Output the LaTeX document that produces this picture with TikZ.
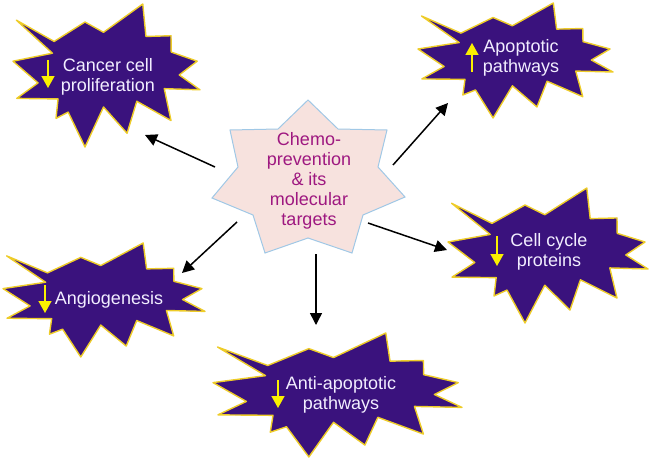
\documentclass[tikz,border=0pt]{standalone}
\usepackage{fontspec}
\setmainfont{Liberation Sans}
\usetikzlibrary{arrows.meta}

\definecolor{burstfill}{RGB}{58,18,125}
\definecolor{burstedge}{RGB}{238,204,40}
\definecolor{bursttxt}{RGB}{242,238,255}
\definecolor{starfill}{RGB}{247,226,222}
\definecolor{staredge}{RGB}{160,200,230}
\definecolor{chemotxt}{RGB}{158,24,128}
\definecolor{trendcol}{RGB}{250,240,0}

\tikzset{
  burst/.style={fill=burstfill,draw=burstedge,line width=1.4pt,line join=round},
  bursttext/.style={text=bursttxt,align=center,font=\fontsize{18}{20}\selectfont},
  link/.style={-{Triangle[length=12pt,width=12pt]},line width=1.5pt},
  trend/.style={-{Triangle[length=12pt,width=13pt]},draw=trendcol,fill=trendcol,line width=1.5pt}
}

\newcommand{\burstshape}[4]{%
  \begin{scope}[shift={(#1,#2)},xscale=#3/100,yscale=#4/100]
    \draw[burst] (1.8,11.3) -- (22,26.2) -- (38.5,12.6) -- (48.4,19.8) -- (69.4,0)
      -- (71.1,22.7) -- (84.5,22.2) -- (84.6,33.6) -- (98.5,40) -- (88.9,49.6)
      -- (100,60) -- (80.9,59.2) -- (84.5,81.5) -- (66.2,68) -- (61,90.4)
      -- (48.4,72) -- (38.5,100) -- (29.5,75.6) -- (23,80) -- (24.1,66.4)
      -- (2,66) -- (13.4,55.2) -- (0,40) -- (21.1,34.4) -- cycle;
  \end{scope}}

\begin{document}
\begin{tikzpicture}[x=1pt,y=-1pt]
  \useasboundingbox (0,0) rectangle (650,460);
  \burstshape{13}{4}{187}{143}
  \burstshape{418}{3}{195}{115}
  \burstshape{448}{188}{200}{135}
  \burstshape{3}{243}{202}{114}
  \burstshape{213}{333}{249}{124}
  \draw[fill=starfill,draw=staredge,line width=1pt]
    (308,100) -- (338,129) -- (387,130) -- (378,167) -- (405,197) -- (363,215)
    -- (352,253) -- (308,238) -- (265,253) -- (253,215) -- (212,198)
    -- (238,167) -- (230,130) -- (278,129) -- cycle;
  \path
    (309,181) node[align=center,text=chemotxt,font=\fontsize{18}{20}\selectfont] (chemo)
      {Chemo-\\prevention\\\& its\\molecular\\targets}
    (108,77) node[bursttext] (cancer) {Cancer cell\\proliferation}
    (521,58) node[bursttext] (apop) {Apoptotic\\pathways}
    (549,252) node[bursttext] (cycle) {Cell cycle\\proteins}
    (109,300) node[bursttext] (angio) {Angiogenesis}
    (341,395) node[bursttext] (antiap) {Anti-apoptotic\\pathways};
  \path
    (215,167) coordinate (c0) (145,135) coordinate (c1)
    (393,165) coordinate (a0) (448,103) coordinate (a1)
    (237,222) coordinate (g0) (182,273) coordinate (g1)
    (316,254) coordinate (n0) (316,325) coordinate (n1)
    (368,223) coordinate (p0) (447,250) coordinate (p1);
  \begin{scope}[link]
    \draw (c0) to (c1);
    \draw (a0) to (a1);
    \draw (g0) to (g1);
    \draw (n0) to (n1);
    \draw (p0) to (p1);
  \end{scope}
  \path
    (48,60) coordinate (tc0) (48,88) coordinate (tc1)
    (472,72) coordinate (ta0) (472,43) coordinate (ta1)
    (497,236) coordinate (tp0) (497,266) coordinate (tp1)
    (45,285) coordinate (tg0) (45,313) coordinate (tg1)
    (278,380) coordinate (tn0) (278,408) coordinate (tn1);
  \begin{scope}[trend]
    \draw (tc0) to (tc1);
    \draw (ta0) to (ta1);
    \draw (tp0) to (tp1);
    \draw (tg0) to (tg1);
    \draw (tn0) to (tn1);
  \end{scope}
\end{tikzpicture}
\end{document}
